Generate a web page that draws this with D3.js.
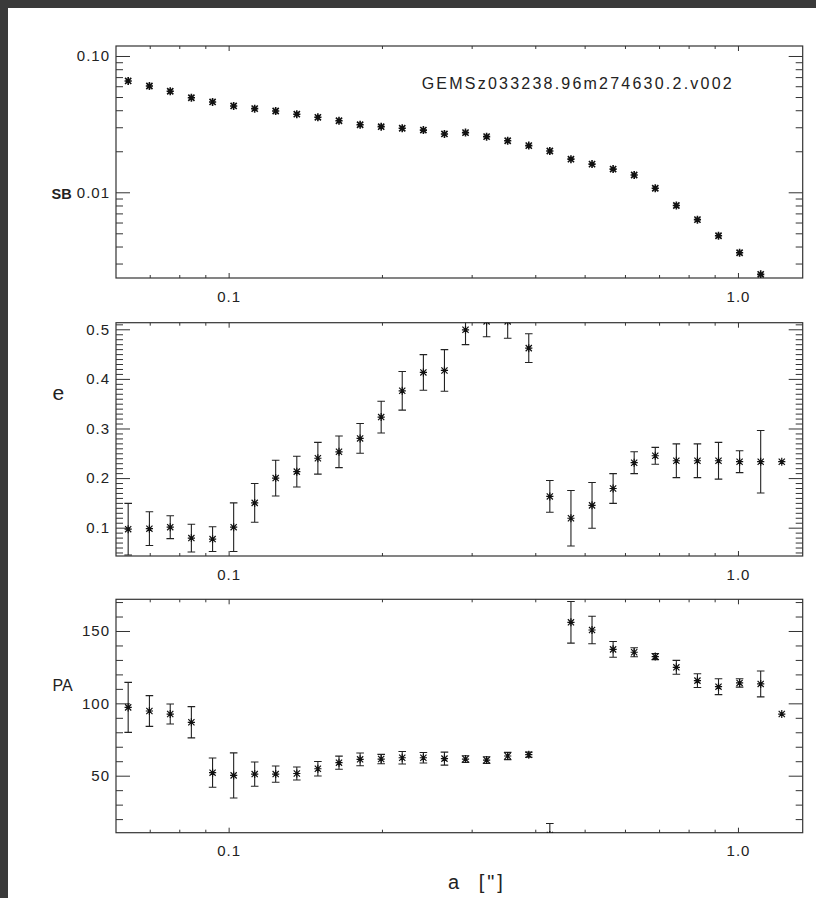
<!DOCTYPE html>
<html><head><meta charset="utf-8">
<script src="https://cdn.jsdelivr.net/npm/d3@7"></script>
<style>
html,body{margin:0;padding:0;background:#fff;}
svg{display:block;}
text{font-family:"Liberation Sans",Arial,Helvetica,sans-serif;fill:#222;}
</style></head><body>
<svg id="c" width="816" height="898"></svg>
<script>
// ---- data ----
const radius = [0.0635, 0.0699, 0.0768, 0.0845, 0.0930, 0.1023, 0.1125, 0.1237, 0.1361, 0.1497,
  0.1647, 0.1812, 0.1993, 0.2192, 0.2412, 0.2653, 0.2918, 0.3210, 0.3531, 0.3884,
  0.4272, 0.4700, 0.5170, 0.5687, 0.6255, 0.6881, 0.7569, 0.8326, 0.9158, 1.0074,
  1.1082, 1.2190];
const sbValues = [0.0656, 0.0602, 0.0551, 0.0494, 0.0460, 0.0430, 0.0411, 0.0395, 0.0374, 0.0355,
  0.0335, 0.0313, 0.0303, 0.0295, 0.0286, 0.0268, 0.0274, 0.0256, 0.0239, 0.0220,
  0.0201, 0.0175, 0.0161, 0.0148, 0.0134, 0.0107, 0.0080, 0.0063, 0.0048, 0.0036,
  0.0025];
const eValues = [0.097, 0.098, 0.101, 0.079, 0.077, 0.101, 0.150, 0.200, 0.213, 0.240,
  0.253, 0.280, 0.323, 0.376, 0.413, 0.417, 0.499, 0.516, 0.516, 0.462,
  0.163, 0.119, 0.145, 0.179, 0.231, 0.245, 0.235, 0.235, 0.235, 0.233,
  0.233, 0.233];
const eErrors = [0.052, 0.034, 0.023, 0.028, 0.025, 0.049, 0.039, 0.036, 0.031, 0.032,
  0.032, 0.030, 0.032, 0.039, 0.036, 0.042, 0.030, 0.031, 0.034, 0.029,
  0.032, 0.056, 0.046, 0.030, 0.022, 0.017, 0.034, 0.034, 0.037, 0.022,
  0.063, null];
const paValues = [97.2, 94.7, 92.6, 86.9, 52.1, 50.2, 51.1, 51.1, 51.5, 54.8,
  59.0, 61.3, 61.5, 62.4, 62.4, 61.8, 61.5, 60.8, 63.6, 64.5,
  9.0, 156.0, 150.7, 137.3, 135.3, 132.3, 124.9, 115.7, 111.5, 114.1,
  113.4, 92.6];
const paErrors = [17.3, 10.6, 6.9, 10.8, 10.1, 15.6, 8.4, 5.6, 4.5, 5.0,
  4.5, 4.4, 3.2, 4.3, 3.6, 4.5, 2.3, 2.3, 2.5, 1.8,
  8.0, 14.4, 9.5, 5.4, 3.1, 2.1, 4.8, 4.8, 5.5, 2.9,
  8.9, null];

const xMajorTicks = [0.1, 1.0];
const sbMajorTicks = [0.1, 0.01];
const eMajorTicks = [0.1, 0.2, 0.3, 0.4, 0.5];
const paMajorTicks = [50, 100, 150];

const xDomain = [0.0601, 1.34];
const sbDomain = [0.00235, 0.1184];
const eDomain = [0.0429, 0.5133];
const paDomain = [10.6, 171.9];

const titleText = "GEMSz033238.96m274630.2.v002";
const xTitle = 'a ["]';

// ---- layout ----
const W = 816, H = 898;
const L = 116, R = 802.7;
const svg = d3.select("#c");
svg.append("rect").attr("width", W).attr("height", H).attr("fill", "#fff");
svg.append("rect").attr("x", 0).attr("y", 0).attr("width", W).attr("height", 8).attr("fill", "#3a3a3a");
svg.append("rect").attr("x", 0).attr("y", 0).attr("width", 8).attr("height", H).attr("fill", "#3a3a3a");

const x = d3.scaleLog().domain(xDomain).range([L, R]);

const panels = [
  {top: 46, bottom: 278, type: "log", domain: sbDomain, major: sbMajorTicks, fmt: d3.format(".2f"),
   vals: sbValues, errs: null, minorCount: null, title: "SB", tx: 51.5, ty: 198.5, tsize: 14.5, tweight: "bold", mw: 1.6},
  {top: 322.7, bottom: 556, type: "lin", domain: eDomain, major: eMajorTicks, fmt: d3.format(".1f"),
   vals: eValues, errs: eErrors, minorCount: 50, title: "e", tx: 52.5, ty: 400, tsize: 21, tweight: "normal", mw: 1.2},
  {top: 599.3, bottom: 832.7, type: "lin", domain: paDomain, major: paMajorTicks, fmt: d3.format("d"),
   vals: paValues, errs: paErrors, minorCount: 16, title: "PA", tx: 52.5, ty: 691, tsize: 16, tweight: "normal", mw: 1.2}
];

const near = (a, b) => Math.abs(a - b) <= 1e-9 * Math.max(1, Math.abs(b));
const notMajor = (maj) => t => !maj.some(m => near(m, t));

function styleAxis(g, fontSize) {
  g.select(".domain").remove();
  g.selectAll(".tick line").attr("stroke", "#333").attr("stroke-width", 1);
  g.attr("font-family", null).attr("font-size", null);
  g.selectAll(".tick text").attr("font-size", fontSize).attr("fill", "#1a1a1a")
    .style("letter-spacing", "1px");
}

const star = "M-3.6,0H3.6M0,-4V4M-3.1,-3.1L3.1,3.1M-3.1,3.1L3.1,-3.1";

panels.forEach((p, idx) => {
  const y = (p.type === "log" ? d3.scaleLog() : d3.scaleLinear()).domain(p.domain).range([p.bottom, p.top]);
  const g = svg.append("g");
  const cid = "clip" + idx;
  svg.append("clipPath").attr("id", cid).append("rect")
    .attr("x", L).attr("y", p.top).attr("width", R - L).attr("height", p.bottom - p.top);

  // x axes (bottom with labels, top without)
  const xMinor = x.ticks().filter(notMajor(xMajorTicks));
  g.append("g").attr("transform", `translate(0,${p.bottom})`)
    .call(d3.axisBottom(x).tickValues(xMajorTicks).tickSizeInner(-5).tickSizeOuter(0).tickPadding(13).tickFormat(d3.format(".1f")))
    .call(s => styleAxis(s, 15));
  g.append("g").attr("transform", `translate(0,${p.bottom})`)
    .call(d3.axisBottom(x).tickValues(xMinor).tickSizeInner(-3).tickSizeOuter(0).tickFormat(""))
    .call(s => styleAxis(s, 15));
  g.append("g").attr("transform", `translate(0,${p.top})`)
    .call(d3.axisTop(x).tickValues(xMajorTicks).tickSizeInner(-5).tickSizeOuter(0).tickFormat(""))
    .call(s => styleAxis(s, 15));
  g.append("g").attr("transform", `translate(0,${p.top})`)
    .call(d3.axisTop(x).tickValues(xMinor).tickSizeInner(-3).tickSizeOuter(0).tickFormat(""))
    .call(s => styleAxis(s, 15));

  // y axes
  const yMinor = (p.type === "log" ? y.ticks() : y.ticks(p.minorCount)).filter(notMajor(p.major));
  g.append("g").attr("transform", `translate(${L},0)`)
    .call(d3.axisLeft(y).tickValues(p.major).tickSizeInner(-14).tickSizeOuter(0).tickPadding(6).tickFormat(p.fmt))
    .call(s => styleAxis(s, 15));
  g.append("g").attr("transform", `translate(${L},0)`)
    .call(d3.axisLeft(y).tickValues(yMinor).tickSizeInner(-7).tickSizeOuter(0).tickFormat(""))
    .call(s => styleAxis(s, 15));
  g.append("g").attr("transform", `translate(${R},0)`)
    .call(d3.axisRight(y).tickValues(p.major).tickSizeInner(-14).tickSizeOuter(0).tickFormat(""))
    .call(s => styleAxis(s, 15));
  g.append("g").attr("transform", `translate(${R},0)`)
    .call(d3.axisRight(y).tickValues(yMinor).tickSizeInner(-7).tickSizeOuter(0).tickFormat(""))
    .call(s => styleAxis(s, 15));

  // box
  g.append("rect").attr("x", L).attr("y", p.top).attr("width", R - L).attr("height", p.bottom - p.top)
    .attr("fill", "none").attr("stroke", "#333").attr("stroke-width", 1.2);

  // data
  const pts = p.vals.map((v, i) => ({a: radius[i], v, e: p.errs ? p.errs[i] : null}));
  const dg = g.append("g").attr("clip-path", `url(#${cid})`);
  dg.selectAll("path.err").data(pts.filter(d => d.e != null)).join("path")
    .attr("class", "err")
    .attr("d", d => {
      const cx = x(d.a), y1 = y(d.v - d.e), y2 = y(d.v + d.e);
      return `M${cx},${y1}V${y2}M${cx - 3.8},${y1}H${cx + 3.8}M${cx - 3.8},${y2}H${cx + 3.8}`;
    })
    .attr("stroke", "#222").attr("stroke-width", 1.1).attr("fill", "none");
  dg.selectAll("path.pt").data(pts).join("path")
    .attr("class", "pt")
    .attr("transform", d => `translate(${x(d.a)},${y(d.v)})`)
    .attr("d", star)
    .attr("stroke", "#111").attr("stroke-width", p.mw).attr("fill", "none");

  // y title
  svg.append("text").attr("x", p.tx).attr("y", p.ty).attr("font-size", p.tsize)
    .attr("font-weight", p.tweight).text(p.title);
});

// object name
svg.append("text").attr("x", 421.7).attr("y", 88.8).attr("font-size", 16)
  .attr("textLength", 310).attr("lengthAdjust", "spacing").text(titleText);

// x axis title
svg.append("text").attr("x", 448).attr("y", 888.5).attr("font-size", 20)
  .style("letter-spacing", "3px").style("word-spacing", "8px").text(xTitle);
</script>
</body></html>
